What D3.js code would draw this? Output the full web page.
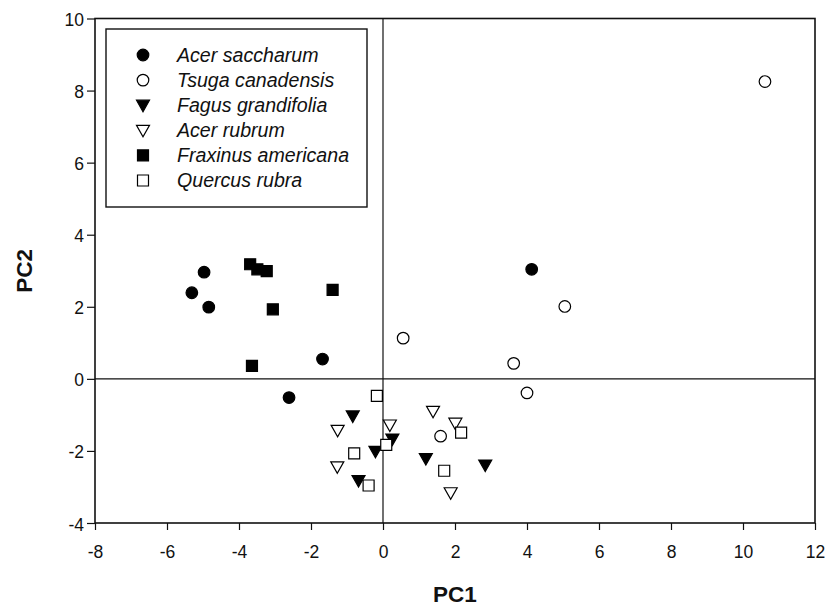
<!DOCTYPE html>
<html><head><meta charset="utf-8">
<script src="https://cdn.jsdelivr.net/npm/d3@7"></script>
<style>body{margin:0;background:#fff}svg{display:block}</style>
</head><body>
<script>
const species = ["Acer saccharum","Tsuga canadensis","Fagus grandifolia","Acer rubrum","Fraxinus americana","Quercus rubra"];
const acerSaccharum = [[-4.97,2.96],[-5.31,2.39],[-4.84,1.99],[-1.68,0.55],[-2.61,-0.52],[4.13,3.04]];
const tsugaCanadensis = [[0.56,1.13],[3.63,0.43],[4.0,-0.39],[5.05,2.01],[10.61,8.25],[1.60,-1.59]];
const fagusGrandifolia = [[-0.84,-1.03],[0.26,-1.67],[-0.21,-2.01],[-0.68,-2.82],[1.19,-2.21],[2.84,-2.39]];
const acerRubrum = [[-1.26,-1.43],[0.19,-1.28],[-1.27,-2.44],[1.39,-0.90],[2.01,-1.23],[1.88,-3.16]];
const fraxinusAmericana = [[-3.69,3.18],[-3.49,3.04],[-3.23,2.99],[-1.40,2.47],[-3.06,1.93],[-3.64,0.36]];
const quercusRubra = [[-0.17,-0.47],[0.09,-1.83],[-0.80,-2.07],[-0.40,-2.96],[2.17,-1.49],[1.70,-2.55]];
const xTicks = [-8,-6,-4,-2,0,2,4,6,8,10,12];
const yTicks = [-4,-2,0,2,4,6,8,10];

const seriesData = [acerSaccharum,tsugaCanadensis,fagusGrandifolia,acerRubrum,fraxinusAmericana,quercusRubra];
const styles = [
  {shape:"circle", fill:"#000"},
  {shape:"circle", fill:"#fff"},
  {shape:"tri", fill:"#000"},
  {shape:"tri", fill:"#fff"},
  {shape:"square", fill:"#000"},
  {shape:"square", fill:"#fff"}
];

const W=831,H=606;
const L=95,R=815,T=18.5,B=523;
const svg=d3.select("body").append("svg").attr("width",W).attr("height",H);
const x=d3.scaleLinear().domain([-8,12]).range([L,R]);
const y=d3.scaleLinear().domain([-4,10]).range([B,T]);
const font='"Liberation Sans", Arial, sans-serif';

function symPath(shape){
  if(shape==="circle") return d3.symbol().type(d3.symbolCircle).size(Math.PI*5.8*5.8)();
  if(shape==="square") return "M-5.5,-5.5H5.5V5.5H-5.5Z";
  return "M-6.5,-5L6.5,-5L0,6.5Z";
}

// zero lines
svg.append("line").attr("x1",x(0)).attr("x2",x(0)).attr("y1",T).attr("y2",B).attr("stroke","#111").attr("stroke-width",1.2);
svg.append("line").attr("x1",L).attr("x2",R).attr("y1",y(0)).attr("y2",y(0)).attr("stroke","#111").attr("stroke-width",1.2);

// axes
const fmt = d=>String(d);
const xa=svg.append("g").attr("transform",`translate(0,${B})`)
  .call(d3.axisBottom(x).tickValues(xTicks).tickSize(7).tickPadding(16).tickFormat(fmt));
const ya=svg.append("g").attr("transform",`translate(${L},0)`)
  .call(d3.axisLeft(y).tickValues(yTicks).tickSize(8).tickPadding(3).tickFormat(fmt));
[xa,ya].forEach(g=>{
  g.select(".domain").remove();
  g.selectAll("line").attr("stroke","#111").attr("stroke-width",1.2);
  g.selectAll("text").attr("font-family",font).attr("font-size",17.5).attr("fill","#111");
});
ya.selectAll("text").attr("dy","0.4em");

// frame
svg.append("rect").attr("x",L).attr("y",T).attr("width",R-L).attr("height",B-T)
  .attr("fill","none").attr("stroke","#111").attr("stroke-width",1.6);

// points
seriesData.forEach((arr,i)=>{
  const st=styles[i];
  svg.append("g").selectAll("path").data(arr).join("path")
    .attr("d",symPath(st.shape))
    .attr("transform",d=>`translate(${x(d[0])},${y(d[1])})`)
    .attr("fill",st.fill).attr("stroke","#000").attr("stroke-width",1.2);
});

// legend
const lg=svg.append("g");
lg.append("rect").attr("x",106).attr("y",29).attr("width",261).attr("height",178)
  .attr("fill","#fff").attr("stroke","#111").attr("stroke-width",1.4);
species.forEach((s,i)=>{
  const cy=55+i*25.1;
  lg.append("path").attr("d",symPath(styles[i].shape)).attr("transform",`translate(143,${cy})`)
    .attr("fill",styles[i].fill).attr("stroke","#000").attr("stroke-width",1.2);
  lg.append("text").attr("x",177).attr("y",cy).attr("dy","0.35em").text(s)
    .attr("font-family",font).attr("font-size",19.6).attr("font-style","italic").attr("fill","#111");
});

// axis titles
svg.append("text").attr("x",(L+R)/2).attr("y",602).attr("text-anchor","middle").text("PC1")
  .attr("font-family",font).attr("font-size",22.5).attr("font-weight","bold").attr("fill","#111");
svg.append("text").attr("transform",`translate(32,${(T+B)/2}) rotate(-90)`).attr("text-anchor","middle").text("PC2")
  .attr("font-family",font).attr("font-size",22.5).attr("font-weight","bold").attr("fill","#111");
</script>
</body></html>
